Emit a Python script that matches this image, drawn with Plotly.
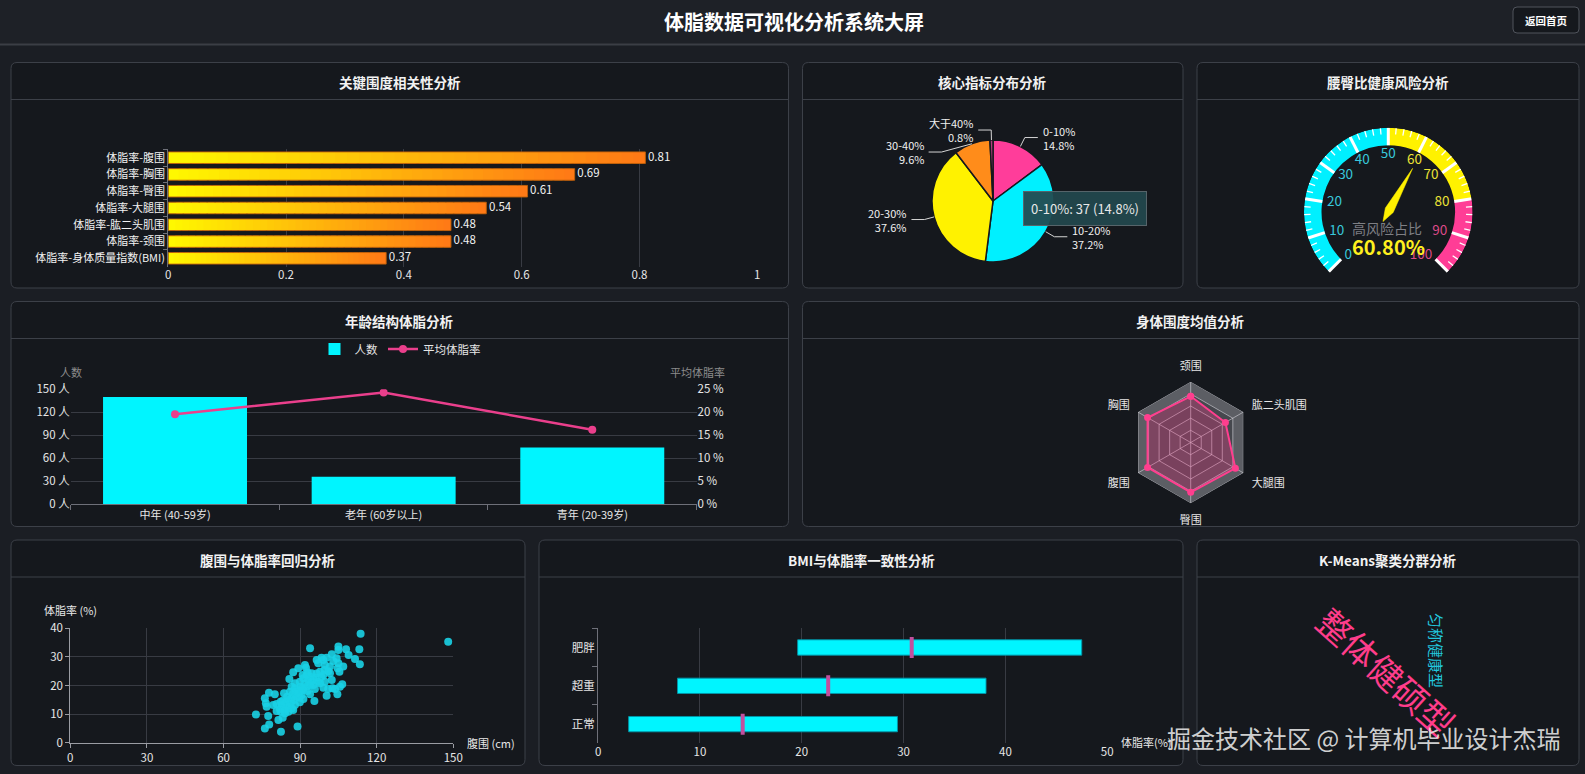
import numpy as np
import plotly.graph_objects as go

W, H = 1585, 774
PAGE_BG = '#1b1e24'
PANEL_BG = '#15181d'
BORDER = '#3c4048'
GRID = '#383b43'
AXIS_LINE = '#6e7079'
TXT = '#e6e6e6'
FONT = 'Noto Sans CJK SC, Noto Sans, sans-serif'

# ---------------- data ----------------
corr_labels = ['体脂率-腹围', '体脂率-胸围', '体脂率-臀围', '体脂率-大腿围',
               '体脂率-肱二头肌围', '体脂率-颈围', '体脂率-身体质量指数(BMI)']
corr_values = [0.81, 0.69, 0.61, 0.54, 0.48, 0.48, 0.37]

pie_labels = ['0-10%', '10-20%', '20-30%', '30-40%', '大于40%']
pie_counts = [37, 93, 94, 24, 2]
pie_colors = ['#ff3d9a', '#00f0ff', '#fff200', '#ff8c1a', '#b0407e']

gauge_value = 60.8
gauge_title = '高风险占比'
gauge_bands = [0, 50, 80, 100]
gauge_band_colors = ['#00f0ff', '#fff200', '#ff3d96']
gauge_label_colors = ['#38c8dc', '#ece236', '#dc4a88']

age_groups = ['中年 (40-59岁)', '老年 (60岁以上)', '青年 (20-39岁)']
age_counts = [140, 36, 74]
age_fat = [19.6, 24.3, 16.2]

radar_names = ['颈围', '肱二头肌围', '大腿围', '臀围', '腹围', '胸围']
radar_values = [38.0, 32.3, 59.4, 99.9, 92.6, 100.8]
radar_max = [50, 49, 70, 122, 113, 123]

waist = [113.7, 148.0, 93.9, 105.0, 108.0, 113.2, 105.0, 109.0, 111.5, 102.4, 100.4, 99.1, 96.5,
         98.4, 104.3, 103.0, 105.0, 113.4, 91.9, 92.3, 104.7, 89.3, 99.6, 97.8, 101.0, 87.3, 92.9,
         91.0, 101.7, 99.1, 98.4, 91.3, 85.8, 95.2, 94.5, 89.9, 97.8, 93.9, 106.5, 92.6, 91.0, 99.1,
         101.0, 102.7, 95.8, 88.9, 92.9, 77.8, 83.7, 89.9, 87.1, 100.4, 104.6, 88.6, 86.7, 76.2,
         95.6, 89.9, 85.4, 83.2, 76.6, 80.8, 84.7, 76.9, 83.4, 86.7, 82.1, 85.4, 84.1, 72.7, 77.5,
         83.2, 81.5, 77.9, 76.2, 89.0, 82.5,
         86.7, 88.0, 88.4, 89.3, 90.6, 89.7, 91.3, 87.6, 86.3, 84.5, 82.8, 85.6, 87.3, 84.1, 82.4,
         80.8, 91.9, 93.2, 93.9, 92.6, 94.5, 96.2, 97.1, 99.7, 96.5, 102.4, 103.7, 105.6, 105.4,
         106.9, 101.7, 99.7, 97.1, 88.0, 86.0, 84.9, 82.4, 79.5, 91.3, 93.9, 95.2, 90.2, 80.1, 88.0]
bodyfat = [38.1, 35.3, 33.0, 33.6, 32.7, 32.7, 32.4, 30.7, 29.3, 30.9, 29.7, 28.9, 28.9, 29.7,
           29.5, 28.6, 27.8, 27.4, 27.2, 26.2, 26.0, 26.0, 25.4, 24.8, 25.0, 24.6, 24.6, 23.7, 24.3,
           23.7, 23.1, 22.5, 22.3, 22.2, 21.3, 21.3, 20.8, 20.2, 20.4, 19.6, 19.0, 19.2, 18.8, 19.0,
           18.8, 18.4, 18.1, 17.5, 17.3, 17.6, 16.9, 16.4, 16.9, 16.1, 15.5, 15.5, 14.6, 14.1, 14.9,
           14.7, 13.8, 13.5, 13.2, 12.6, 12.2, 12.0, 11.7, 10.8, 10.3, 9.9, 9.3, 8.7, 7.9, 6.4, 5.0,
           5.7, 3.8,
           19.6, 19.0, 17.8, 17.3, 16.7, 15.7, 15.3, 14.9, 13.8, 14.3, 13.2, 12.6, 11.4, 11.4, 10.8,
           11.1, 20.8, 21.9, 23.1, 23.7, 24.3, 22.7, 21.3, 21.3, 24.2, 21.9, 18.8, 19.6, 24.8, 26.6,
           26.6, 27.2, 27.8, 20.8, 17.8, 16.1, 14.3, 13.2, 18.4, 16.9, 20.2, 19.6, 16.9, 13.2]

bmi_groups = ['正常', '超重', '肥胖']
bmi_min = [3.0, 7.8, 19.6]
bmi_max = [29.4, 38.1, 47.5]
bmi_median = [14.2, 22.6, 30.8]

cluster_words = ['整体健硕型', '匀称健康型']

page_title = '体脂数据可视化分析系统大屏'
panel_titles = ['关键围度相关性分析', '核心指标分布分析', '腰臀比健康风险分析', '年龄结构体脂分析',
                '身体围度均值分析', '腹围与体脂率回归分析', 'BMI与体脂率一致性分析', 'K-Means聚类分群分析']
watermark = '掘金技术社区 @ 计算机毕业设计杰瑞'


# ---------------- helpers ----------------
def X(px):
    return px / W


def Y(py):
    return 1 - py / H


def rrect_path(x0, y0, x1, y1, r):
    return (f"M {X(x0 + r)},{Y(y0)} L {X(x1 - r)},{Y(y0)} Q {X(x1)},{Y(y0)} {X(x1)},{Y(y0 + r)} "
            f"L {X(x1)},{Y(y1 - r)} Q {X(x1)},{Y(y1)} {X(x1 - r)},{Y(y1)} "
            f"L {X(x0 + r)},{Y(y1)} Q {X(x0)},{Y(y1)} {X(x0)},{Y(y1 - r)} "
            f"L {X(x0)},{Y(y0 + r)} Q {X(x0)},{Y(y0)} {X(x0 + r)},{Y(y0)} Z")


shapes = []
annotations = []


def ann(x, y, text, size=12, color=TXT, xanchor='center', yanchor='middle', **kw):
    d = dict(x=X(x), y=Y(y), xref='paper', yref='paper', text=text, showarrow=False,
             xanchor=xanchor, yanchor=yanchor, font=dict(size=size, color=color, family=FONT))
    d.update(kw)
    annotations.append(d)


# header
shapes.append(dict(type='rect', xref='paper', yref='paper', x0=0, x1=1, y0=Y(44), y1=1,
                   fillcolor='#1e2127', line=dict(width=0), layer='below'))
shapes.append(dict(type='line', xref='paper', yref='paper', x0=0, x1=1, y0=Y(44.5), y1=Y(44.5),
                   line=dict(color='#3b3e45', width=2), layer='below'))
ann(794, 21, f'<b>{page_title}</b>', size=20, color='#ffffff')
shapes.append(dict(type='path', xref='paper', yref='paper', path=rrect_path(1513, 7, 1579, 33, 4),
                   fillcolor='#15181d', line=dict(color='#50545c', width=1), layer='below'))
ann(1546, 20, '<b>返回首页</b>', size=10.5, color='#ffffff')

# panels
panel_boxes = [(11, 62.5, 788.5, 288), (802.5, 62.5, 1183, 288), (1197, 62.5, 1579, 288),
               (11, 301.5, 788.5, 526.5), (802.5, 301.5, 1579, 526.5),
               (11, 540, 525, 765.5), (539, 540, 1183, 765.5), (1197, 540, 1579, 765.5)]
for title, (x0, y0, x1, y1) in zip(panel_titles, panel_boxes):
    shapes.append(dict(type='path', xref='paper', yref='paper', path=rrect_path(x0, y0, x1, y1, 6),
                       fillcolor=PANEL_BG, line=dict(color=BORDER, width=1), layer='below'))
    shapes.append(dict(type='line', xref='paper', yref='paper', x0=X(x0), x1=X(x1),
                       y0=Y(y0 + 37), y1=Y(y0 + 37), line=dict(color=BORDER, width=1), layer='below'))
    ann((x0 + x1) / 2, y0 + 19.5, f'<b>{title}</b>', size=13.5, color='#f2f2f2')

fig = go.Figure()

# ---------------- 1. correlation bars (gradient) ----------------
N = 40
c0 = np.array([255, 248, 0])
c1 = np.array([255, 122, 22])
seg_x, seg_base, seg_y, seg_col = [], [], [], []
for lab, v in zip(corr_labels, corr_values):
    step = v / N
    for k in range(N):
        t = k / (N - 1)
        col = c0 + (c1 - c0) * t
        b = k * step
        seg_base.append(b)
        seg_x.append(min(step * 1.8, v - b))
        seg_y.append(lab)
        seg_col.append(f'rgb({int(col[0])},{int(col[1])},{int(col[2])})')
fig.add_trace(go.Bar(x=seg_x, base=seg_base, y=seg_y, orientation='h', width=0.69,
                     marker=dict(color=seg_col, line=dict(width=0)),
                     xaxis='x', yaxis='y', showlegend=False, hoverinfo='skip'))
fig.add_trace(go.Bar(x=corr_values, y=corr_labels, orientation='h', width=0.69,
                     marker=dict(color='rgba(0,0,0,0)', line=dict(color='rgba(190,95,10,0.9)', width=1)),
                     xaxis='x', yaxis='y', showlegend=False, hoverinfo='skip'))
fig.add_trace(go.Scatter(x=corr_values, y=corr_labels, mode='text',
                         text=[f'\u00a0{v:.2f}' for v in corr_values], textposition='middle right',
                         textfont=dict(color='#f2f2f2', size=11.5),
                         xaxis='x', yaxis='y', showlegend=False, hoverinfo='skip'))

# ---------------- 2. pie ----------------
PCX, PCY, PR = 993, 201, 61
fig.add_trace(go.Pie(values=pie_counts, labels=pie_labels, sort=False, direction='clockwise',
                     rotation=0, textinfo='none', hoverinfo='skip', showlegend=False,
                     marker=dict(colors=pie_colors, line=dict(color='#15181d', width=1.5)),
                     domain=dict(x=[X(PCX - PR), X(PCX + PR)], y=[Y(PCY + PR), Y(PCY - PR)])))
total = sum(pie_counts)
L1, L2 = 10, 13
items = []
cum = 0
for lab, c in zip(pie_labels, pie_counts):
    mid = (cum + c / 2) / total
    cum += c
    a = np.deg2rad(90 - mid * 360)
    ex, ey = PCX + PR * np.cos(a), PCY - PR * np.sin(a)
    bx, by = PCX + (PR + L1) * np.cos(a), PCY - (PR + L1) * np.sin(a)
    side = 1 if np.cos(a) >= 0 else -1
    items.append(dict(lab=lab, pct=f'{c / total * 100:.1f}%', ex=ex, ey=ey, bx=bx, by=by, side=side))
for side in (1, -1):
    grp = sorted([it for it in items if it['side'] == side], key=lambda d: d['by'])
    prev = None
    for it in grp:
        if prev is not None and it['by'] - prev < 22:
            it['by'] = prev + 22
            dy = it['by'] - PCY
            r2 = PR + L1
            it['bx'] = PCX + side * np.sqrt(max(r2 ** 2 - dy ** 2, 0))
        prev = it['by']
for it in items:
    ex, ey, bx, by, s = it['ex'], it['ey'], it['bx'], it['by'], it['side']
    shapes.append(dict(type='path', xref='paper', yref='paper',
                       path=f"M {X(ex)},{Y(ey)} L {X(bx)},{Y(by)} L {X(bx + s * L2)},{Y(by)}",
                       line=dict(color='#d4d4d4', width=1), layer='above'))
    tx = bx + s * (L2 + 3)
    anc = 'left' if s > 0 else 'right'
    ann(tx, by, f"{it['lab']}<br>{it['pct']}", size=11, color='#f0f0f0', xanchor=anc,
        align=anc)
# tooltip (hover state in reference)
tip_i = 0
ann(1085, 208.7, f'{pie_labels[tip_i]}: {pie_counts[tip_i]} ({pie_counts[tip_i] / total * 100:.1f}%)',
    size=13, color='#e8e8e8', bgcolor='rgba(34,72,78,0.93)', bordercolor='#56646a',
    borderwidth=1, borderpad=7)

# ---------------- 3. gauge (polar2, full-circle domain) ----------------
GCX, GCY, GR, GRI = 1388.3, 212, 84.3, 66.8


def g_theta(v):
    return v * 270 / 100


for (a, b), col in zip(zip(gauge_bands[:-1], gauge_bands[1:]), gauge_band_colors):
    fig.add_trace(go.Barpolar(r=[GR - GRI], base=[GRI], theta=[g_theta((a + b) / 2)],
                              width=[g_theta(b - a)], marker=dict(color=col, line=dict(width=0)),
                              subplot='polar2', showlegend=False, hoverinfo='skip'))
minor_r, minor_t, major_r, major_t = [], [], [], []
for v in range(0, 101, 2):
    if v % 10 == 0:
        major_r += [GRI, GR, None]
        major_t += [g_theta(v), g_theta(v), None]
    else:
        minor_r += [GR - 6.5, GR, None]
        minor_t += [g_theta(v), g_theta(v), None]
fig.add_trace(go.Scatterpolar(r=minor_r, theta=minor_t, mode='lines', line=dict(color='#ffffff', width=1.3),
                              subplot='polar2', showlegend=False, hoverinfo='skip'))
fig.add_trace(go.Scatterpolar(r=major_r, theta=major_t, mode='lines', line=dict(color='#ffffff', width=3),
                              subplot='polar2', showlegend=False, hoverinfo='skip'))
lab_vals = list(range(0, 101, 10))
lab_cols, lab_pos, lab_r = [], [], []
for v in lab_vals:
    for i in range(len(gauge_bands) - 1):
        if v <= gauge_bands[i + 1]:
            lab_cols.append(gauge_label_colors[i])
            break
    cosv = np.cos(np.deg2rad(225 - g_theta(v)))
    if cosv < -0.5:
        lab_pos.append('middle right')
        lab_r.append(62)
    elif cosv > 0.5:
        lab_pos.append('middle left')
        lab_r.append(62)
    else:
        lab_pos.append('middle center')
        lab_r.append(57.5)
fig.add_trace(go.Scatterpolar(r=lab_r, theta=[g_theta(v) for v in lab_vals],
                              mode='text', text=[str(v) for v in lab_vals], textposition=lab_pos,
                              textfont=dict(color=lab_cols, size=13.5),
                              subplot='polar2', showlegend=False, hoverinfo='skip'))
needle_local = [(50, 0), (2, 4.5), (-11, 0), (2, -4.5), (50, 0)]
tv = g_theta(gauge_value)
nr = [np.hypot(a, p) for a, p in needle_local]
nt = [tv - np.degrees(np.arctan2(p, a)) for a, p in needle_local]
fig.add_trace(go.Scatterpolar(r=nr, theta=nt, mode='lines', fill='toself', fillcolor='#fff000',
                              line=dict(color='#fff000', width=0.5),
                              subplot='polar2', showlegend=False, hoverinfo='skip'))
ann(GCX - 1, 227.5, gauge_title, size=14, color='#7e7f84')
ann(GCX, 246, f'<b>{gauge_value:.2f}%</b>', size=20, color='#fff01e')

# ---------------- 4. age structure ----------------
fig.add_trace(go.Bar(x=age_groups, y=age_counts, name='人数', width=0.69,
                     marker=dict(color='#00f5ff', line=dict(width=0)),
                     xaxis='x2', yaxis='y2', hoverinfo='skip', legend='legend'))
fig.add_trace(go.Scatter(x=age_groups, y=age_fat, name='平均体脂率', mode='lines+markers',
                         line=dict(color='#ea3f8c', width=2.5), marker=dict(size=8, color='#ea3f8c'),
                         xaxis='x2', yaxis='y3', hoverinfo='skip', legend='legend'))
ann(71, 371.7, '人数', size=11, color='#8c8c8c')
ann(697, 371.7, '平均体脂率', size=11, color='#8c8c8c')

# ---------------- 5. radar (polar) ----------------
RCX, RCY, RR = 1190.7, 442.5, 60.8
closed = radar_names + [radar_names[0]]
area_cols = ['#5c5e64', '#46484e', '#404248', '#46484e', '#404248']
for lvl, col in zip([1.0, 0.8, 0.6, 0.4, 0.2], area_cols):
    fig.add_trace(go.Scatterpolar(r=[lvl] * len(closed), theta=closed, mode='lines', fill='toself',
                                  fillcolor=col, line=dict(width=0, color=col),
                                  subplot='polar', showlegend=False, hoverinfo='skip'))
for lvl in [0.2, 0.4, 0.6, 0.8, 1.0]:
    fig.add_trace(go.Scatterpolar(r=[lvl] * len(closed), theta=closed, mode='lines',
                                  line=dict(color='rgba(215,215,222,0.6)', width=1),
                                  subplot='polar', showlegend=False, hoverinfo='skip'))
for nm in radar_names:
    fig.add_trace(go.Scatterpolar(r=[0, 1], theta=[nm, nm], mode='lines',
                                  line=dict(color='rgba(215,215,222,0.6)', width=1),
                                  subplot='polar', showlegend=False, hoverinfo='skip'))
rn = [v / m for v, m in zip(radar_values, radar_max)]
fig.add_trace(go.Scatterpolar(r=rn + [rn[0]], theta=closed, mode='lines+markers', fill='toself',
                              fillcolor='rgba(255,62,142,0.30)', line=dict(color='#ff3e8e', width=2),
                              marker=dict(size=7, color='#ff3e8e'),
                              subplot='polar', showlegend=False, hoverinfo='skip'))

# ---------------- 6. scatter ----------------
fig.add_trace(go.Scatter(x=waist, y=bodyfat, mode='markers',
                         marker=dict(size=8, color='#1ad2e6', opacity=0.9, line=dict(width=0)),
                         xaxis='x4', yaxis='y4', showlegend=False, hoverinfo='skip'))
ann(70.5, 610, '体脂率 (%)', size=11, color='#e8e8e8')
ann(465, 742.7, '腹围 (cm)', size=11, color='#e8e8e8', xanchor='left')

# ---------------- 7. BMI ranges ----------------
fig.add_trace(go.Bar(x=[b - a for a, b in zip(bmi_min, bmi_max)], base=bmi_min, y=bmi_groups,
                     orientation='h', width=0.4,
                     marker=dict(color='#00f5ff', line=dict(color='rgba(0,150,170,0.9)', width=1)),
                     xaxis='x5', yaxis='y5', showlegend=False, hoverinfo='skip'))
fig.add_trace(go.Scatter(x=bmi_median, y=bmi_groups, mode='markers',
                         marker=dict(symbol='line-ns', size=15, line=dict(color='#c24f9e', width=4)),
                         xaxis='x5', yaxis='y5', showlegend=False, hoverinfo='skip'))
ann(1119, 742.3, '体脂率(%)', size=11, color='#e8e8e8', xanchor='left')

# ---------------- 8. K-Means word cloud ----------------
ann(1386.7, 671, cluster_words[0], size=34, color='#ff3d8b', textangle=42)
ann(1436.7, 650.7, cluster_words[1], size=15, color='#22c6de', textangle=90)

# watermark
ann(1562, 737, watermark, size=24, color='rgba(232,232,232,0.9)', xanchor='right')

# ---------------- layout ----------------
tickf = dict(color=TXT, size=11.5, family=FONT)
fig.update_layout(
    width=W, height=H, autosize=False,
    margin=dict(l=0, r=0, t=0, b=0, pad=0, autoexpand=False),
    paper_bgcolor=PAGE_BG, plot_bgcolor='rgba(0,0,0,0)',
    font=dict(family=FONT, color=TXT), hovermode=False, barmode='overlay',
    shapes=shapes, annotations=annotations,
    legend=dict(orientation='h', x=X(400), xanchor='center', y=Y(349), yanchor='middle',
                font=dict(color=TXT, size=11.5), bgcolor='rgba(0,0,0,0)', itemwidth=30),
    xaxis=dict(domain=[X(168.2), X(757.3)], anchor='y', range=[0, 1], tickvals=[0, 0.2, 0.4, 0.6, 0.8, 1],
               showgrid=True, gridcolor=GRID, zeroline=False, showline=False, ticks='', tickfont=tickf,
               automargin=False),
    yaxis=dict(domain=[Y(266.7), Y(149.3)], anchor='x', type='category', autorange='reversed',
               showline=True, linecolor=AXIS_LINE, ticks='outside', tickson='boundaries', ticklen=4,
               tickcolor=AXIS_LINE, showgrid=False, tickfont=dict(color='#f2f2f2', size=11, family=FONT),
               automargin=False),
    xaxis2=dict(domain=[X(70.7), X(696.6)], anchor='y2', type='category', showline=True,
                linecolor=AXIS_LINE, ticks='outside', tickson='boundaries', ticklen=5, tickcolor=AXIS_LINE,
                showgrid=False, tickfont=dict(color=TXT, size=11, family=FONT), automargin=False),
    yaxis2=dict(domain=[Y(504.3), Y(389.3)], anchor='x2', range=[0, 150], dtick=30, ticksuffix=' 人',
                showgrid=True, gridcolor=GRID, zeroline=False, showline=False, ticks='', tickfont=tickf,
                automargin=False),
    yaxis3=dict(overlaying='y2', side='right', anchor='x2', range=[0, 25], dtick=5, ticksuffix=' %',
                showgrid=False, zeroline=False, showline=False, ticks='', tickfont=tickf, automargin=False),
    xaxis4=dict(domain=[X(70.3), X(453.3)], anchor='y4', range=[0, 150], dtick=30, showgrid=True,
                gridcolor=GRID, zeroline=False, showline=True, linecolor='#9a9ca3', ticks='outside',
                ticklen=4, tickcolor='#9a9ca3', tickfont=tickf, automargin=False),
    yaxis4=dict(domain=[Y(742.7), Y(628.3)], anchor='x4', range=[0, 40], dtick=10, showgrid=True,
                gridcolor=GRID, zeroline=False, showline=True, linecolor='#9a9ca3', ticks='outside',
                ticklen=4, tickcolor='#9a9ca3', tickfont=tickf, automargin=False),
    xaxis5=dict(domain=[X(598.1), X(1107.2)], anchor='y5', range=[0, 50], dtick=10, showgrid=True,
                gridcolor=GRID, zeroline=False, showline=False, ticks='', tickfont=tickf, automargin=False),
    yaxis5=dict(domain=[Y(743.3), Y(628.3)], anchor='x5', type='category', showline=True,
                linecolor=AXIS_LINE, ticks='outside', tickson='boundaries', ticklen=5, tickcolor=AXIS_LINE,
                showgrid=False, tickfont=dict(color=TXT, size=11.5, family=FONT), automargin=False),
    polar=dict(domain=dict(x=[X(RCX - RR), X(RCX + RR)], y=[Y(RCY + RR), Y(RCY - RR)]),
               gridshape='linear', bgcolor='rgba(0,0,0,0)',
               radialaxis=dict(range=[0, 1], visible=False),
               angularaxis=dict(rotation=90, direction='clockwise', showgrid=False, showline=False,
                                ticks='outside', ticklen=7, tickcolor='rgba(0,0,0,0)',
                                tickfont=dict(color=TXT, size=11, family=FONT))),
    polar2=dict(domain=dict(x=[X(GCX - GR), X(GCX + GR)], y=[Y(GCY + GR), Y(GCY - GR)]),
                bgcolor='rgba(0,0,0,0)', bargap=0,
                radialaxis=dict(range=[0, GR], visible=False),
                angularaxis=dict(visible=False, rotation=225, direction='clockwise')),
)

fig.write_html('out.html')
